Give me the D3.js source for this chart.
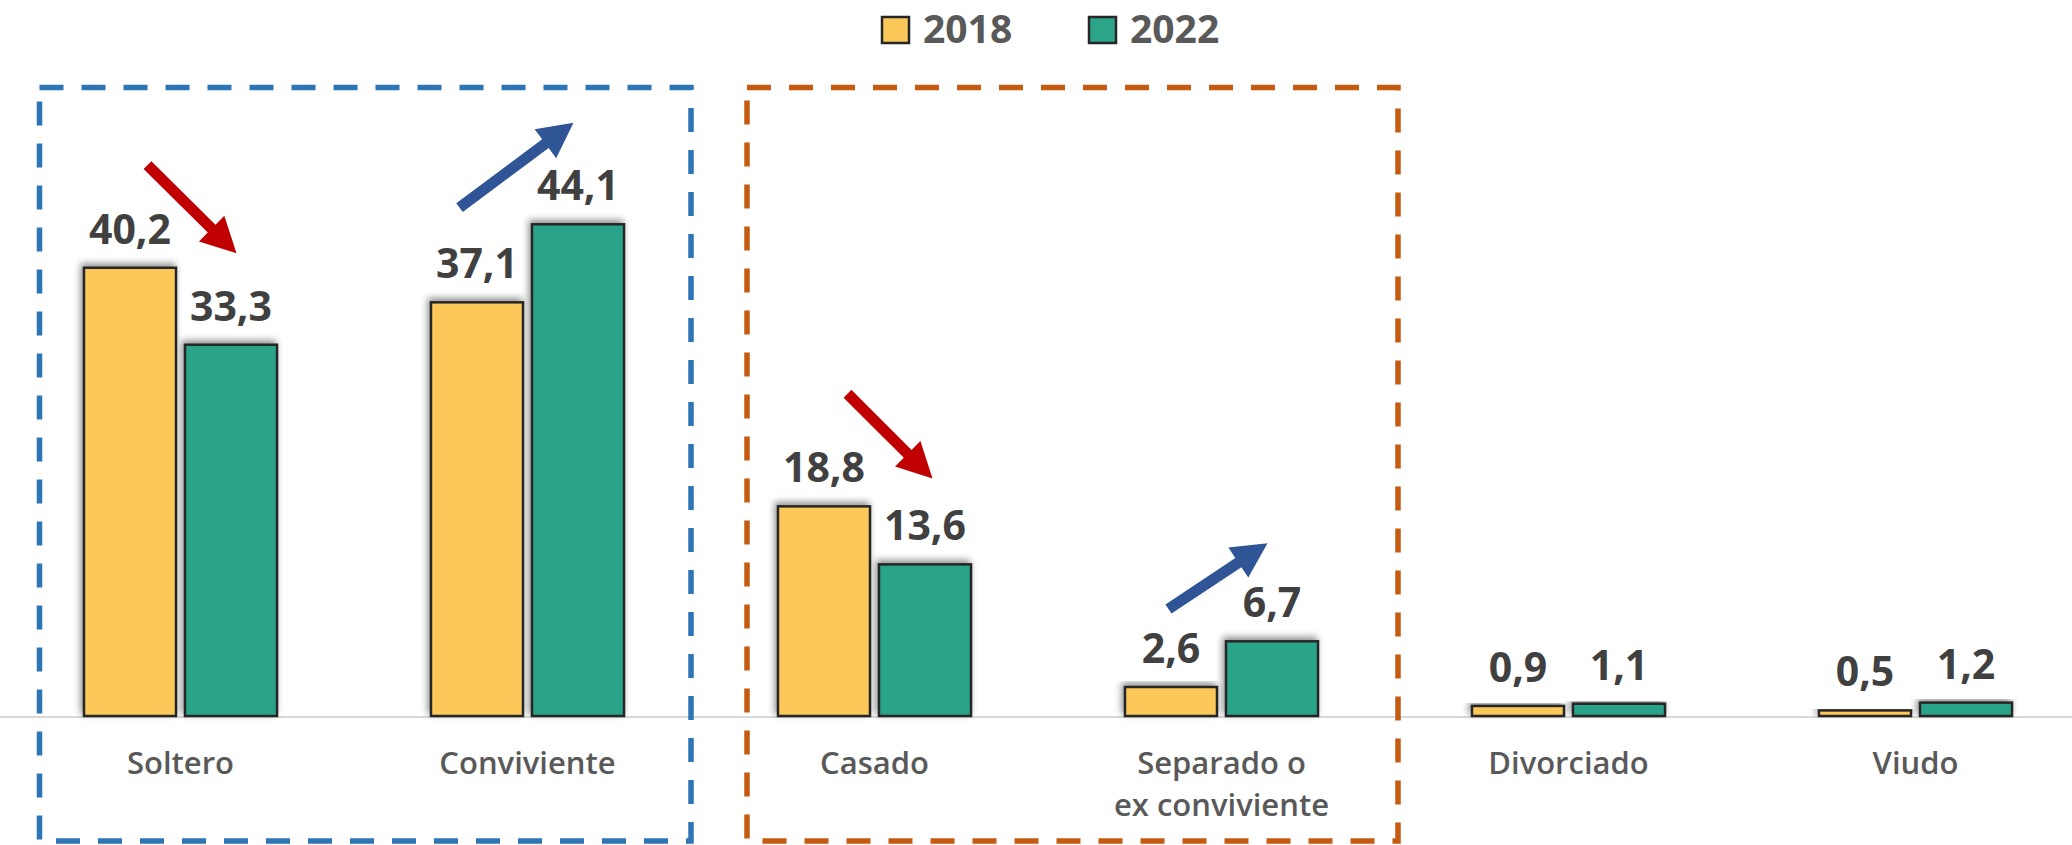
<!DOCTYPE html>
<html>
<head>
<meta charset="utf-8">
<script src="https://cdn.jsdelivr.net/npm/d3@7"></script>
<style>
  html, body { margin: 0; padding: 0; background: #fff; }
  svg { display: block; font-family: "Open Sans", sans-serif; }
</style>
</head>
<body>
<svg width="2072" height="845"></svg>
<script>
let width = 2072,
    height = 845;

// data
let categories = ["Soltero", "Conviviente", "Casado", "Separado o\nex conviviente", "Divorciado", "Viudo"];
let years = ["2018", "2022"];
let values2018 = [40.2, 37.1, 18.8, 2.6, 0.9, 0.5];
let values2022 = [33.3, 44.1, 13.6, 6.7, 1.1, 1.2];
let colors = ["#FDC85A", "#2BA488"];

// trend arrows: category, direction and value span
let arrowCats = ["Soltero", "Conviviente", "Casado", "Separado o\nex conviviente"];
let arrowFrom = [49.4, 45.6, 28.9, 9.6];
let arrowTo = [41.5, 53.2, 21.3, 15.5];
let arrowColors = ["#C00000", "#2F5597", "#C00000", "#2F5597"];

// dashed group boxes
let boxFrom = ["Soltero", "Casado"];
let boxTo = ["Conviviente", "Separado o\nex conviviente"];
let boxColors = ["#2E75B6", "#C55A11"];

let rows = categories.map((c, i) => ({cat: c, vals: [values2018[i], values2022[i]]}));

let fmt = v => d3.format(".1f")(v).replace(".", ",");

let baseY = 716;
let x0 = d3.scaleBand().domain(categories).range([7, 2089]);
let x1 = d3.scaleBand().domain(years).range([0, x0.bandwidth()])
    .paddingInner(0.089).paddingOuter(0.762);
let y = d3.scaleLinear().domain([0, 50]).range([baseY, baseY - 557.5]);

let svg = d3.select("svg");

let defs = svg.append("defs");
let f = defs.append("filter").attr("id", "shadow")
    .attr("x", "-20%").attr("y", "-20%").attr("width", "140%").attr("height", "140%");
f.append("feDropShadow")
    .attr("dx", -2).attr("dy", -3).attr("stdDeviation", 3.5)
    .attr("flood-color", "#000").attr("flood-opacity", 0.45);

// baseline
svg.append("line")
    .attr("x1", 0).attr("x2", width)
    .attr("y1", baseY + 1).attr("y2", baseY + 1)
    .attr("stroke", "#d9d9d9").attr("stroke-width", 2);

// bars
let groups = svg.append("g").selectAll("g")
  .data(rows)
  .enter().append("g")
    .attr("transform", d => "translate(" + x0(d.cat) + ",0)");

groups.selectAll("rect")
  .data(d => d.vals.map((v, i) => ({year: years[i], v: v, i: i})))
  .enter().append("rect")
    .attr("x", d => x1(d.year))
    .attr("y", d => y(d.v))
    .attr("width", x1.bandwidth())
    .attr("height", d => baseY - y(d.v))
    .attr("fill", d => colors[d.i])
    .attr("stroke", "#262626")
    .attr("stroke-width", 2.5)
    .attr("filter", "url(#shadow)");

groups.selectAll("text.val")
  .data(d => d.vals.map((v, i) => ({year: years[i], v: v})))
  .enter().append("text")
    .attr("class", "val")
    .attr("x", d => x1(d.year) + x1.bandwidth() / 2)
    .attr("y", d => y(d.v) - 24)
    .attr("text-anchor", "middle")
    .attr("font-size", 41)
    .attr("font-weight", 700)
    .attr("fill", "#404040")
    .text(d => fmt(d.v));

// category labels
let catLabels = svg.append("g").selectAll("text")
  .data(categories)
  .enter().append("text")
    .attr("x", d => x0(d) + x0.bandwidth() / 2)
    .attr("y", 774)
    .attr("text-anchor", "middle")
    .attr("font-size", 31)
    .attr("font-weight", 600)
    .attr("fill", "#595959");

catLabels.selectAll("tspan")
  .data(d => d.split("\n"))
  .enter().append("tspan")
    .attr("x", function() { return d3.select(this.parentNode).attr("x"); })
    .attr("dy", (d, i) => i ? 42 : 0)
    .text(d => d);

// dashed boxes
let boxPad = [[32.5, -10], [46, 3]];
svg.append("g").selectAll("rect")
  .data(boxFrom)
  .enter().append("rect")
    .attr("x", (d, i) => x0(d) + boxPad[i][0])
    .attr("y", 87.5)
    .attr("width", (d, i) => x0(boxTo[i]) + x0.bandwidth() + boxPad[i][1] - x0(d) - boxPad[i][0])
    .attr("height", 753.5)
    .attr("fill", "none")
    .attr("stroke", (d, i) => boxColors[i])
    .attr("stroke-width", 5.5)
    .attr("stroke-dasharray", "24,18");

// arrows
let arrowDx = [[-33, 56], [-68, 46], [-27, 58], [-53, 46]];
let arrowPath = (x1p, y1p, x2p, y2p) => {
  let dx = x2p - x1p, dy = y2p - y1p;
  let len = Math.sqrt(dx * dx + dy * dy);
  let ux = dx / len, uy = dy / len;
  let nx = -uy, ny = ux;
  let sw = 5.5, hw = 18, hl = 35;
  let bx = x2p - ux * hl, by = y2p - uy * hl;
  let pts = [
    [x1p + nx * sw, y1p + ny * sw],
    [bx + nx * sw, by + ny * sw],
    [bx + nx * hw, by + ny * hw],
    [x2p, y2p],
    [bx - nx * hw, by - ny * hw],
    [bx - nx * sw, by - ny * sw],
    [x1p - nx * sw, y1p - ny * sw]
  ];
  return "M" + pts.map(p => p.join(",")).join("L") + "Z";
};

svg.append("g").selectAll("path")
  .data(arrowCats)
  .enter().append("path")
    .attr("d", (d, i) => {
      let c = x0(d) + x0.bandwidth() / 2;
      return arrowPath(c + arrowDx[i][0], y(arrowFrom[i]), c + arrowDx[i][1], y(arrowTo[i]));
    })
    .attr("fill", (d, i) => arrowColors[i]);

// legend
let legendX = [882, 1089];
let legend = svg.append("g").selectAll("g")
  .data(years)
  .enter().append("g")
    .attr("transform", (d, i) => "translate(" + legendX[i] + ",17)");

legend.append("rect")
    .attr("width", 27).attr("height", 26)
    .attr("fill", (d, i) => colors[i])
    .attr("stroke", "#262626")
    .attr("stroke-width", 2.5);

legend.append("text")
    .attr("x", 41).attr("y", 26)
    .attr("font-size", 39)
    .attr("font-weight", 700)
    .attr("fill", "#595959")
    .text(d => d);
</script>
</body>
</html>
